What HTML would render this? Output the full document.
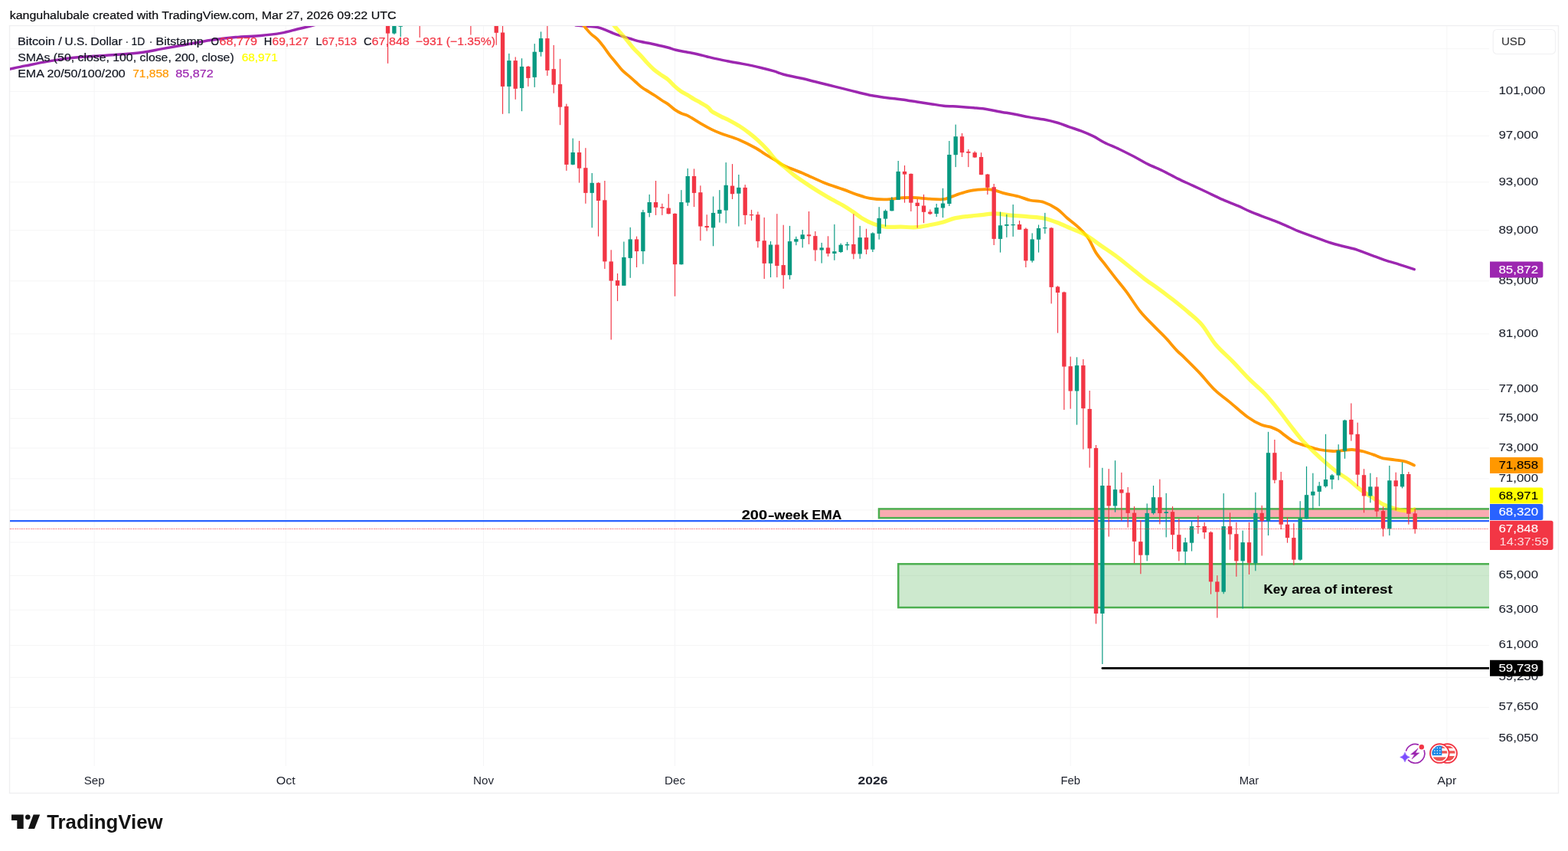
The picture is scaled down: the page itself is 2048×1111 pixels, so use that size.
<!DOCTYPE html>
<html lang="en"><head><meta charset="utf-8"><title>BTCUSD chart</title>
<style>
html,body{margin:0;padding:0;background:#fff;}
body{width:2048px;height:1111px;overflow:hidden;position:relative;font-family:"Liberation Sans", Arial, sans-serif;}
svg{position:absolute;left:0;top:0;display:block}
text{font-family:"Liberation Sans", Arial, sans-serif;}
</style></head><body>
<svg width="2048" height="1111" viewBox="0 0 2048 1111">
<defs><clipPath id="pane"><rect x="13" y="34" width="1932" height="966"/></clipPath></defs>
<rect width="2048" height="1111" fill="#fff"/>

<text x="12.7" y="24.9" font-size="15.2" fill="#0a0b0f" stroke="#0a0b0f" stroke-width="0.2" textLength="504.8" lengthAdjust="spacingAndGlyphs">kanguhalubale created with TradingView.com, Mar 27, 2026 09:22 UTC</text>
<rect x="12.5" y="33.5" width="2023" height="1002" fill="none" stroke="#efeff1" stroke-width="1.4"/>
<g stroke="#f5f5f6" stroke-width="1" fill="none">
<line x1="13" x2="1945" y1="63.7" y2="63.7"/>
<line x1="13" x2="1945" y1="119.4" y2="119.4"/>
<line x1="13" x2="1945" y1="177.4" y2="177.4"/>
<line x1="13" x2="1945" y1="237.8" y2="237.8"/>
<line x1="13" x2="1945" y1="300.8" y2="300.8"/>
<line x1="13" x2="1945" y1="366.8" y2="366.8"/>
<line x1="13" x2="1945" y1="435.9" y2="435.9"/>
<line x1="13" x2="1945" y1="508.5" y2="508.5"/>
<line x1="13" x2="1945" y1="546.3" y2="546.3"/>
<line x1="13" x2="1945" y1="585.0" y2="585.0"/>
<line x1="13" x2="1945" y1="624.9" y2="624.9"/>
<line x1="13" x2="1945" y1="665.9" y2="665.9"/>
<line x1="13" x2="1945" y1="708.0" y2="708.0"/>
<line x1="13" x2="1945" y1="751.5" y2="751.5"/>
<line x1="13" x2="1945" y1="796.3" y2="796.3"/>
<line x1="13" x2="1945" y1="842.6" y2="842.6"/>
<line x1="13" x2="1945" y1="884.3" y2="884.3"/>
<line x1="13" x2="1945" y1="923.6" y2="923.6"/>
<line x1="13" x2="1945" y1="964.0" y2="964.0"/>
<line x1="123.2" x2="123.2" y1="34" y2="1000"/>
<line x1="373.2" x2="373.2" y1="34" y2="1000"/>
<line x1="631.5" x2="631.5" y1="34" y2="1000"/>
<line x1="881.5" x2="881.5" y1="34" y2="1000"/>
<line x1="1139.9" x2="1139.9" y1="34" y2="1000"/>
<line x1="1398.2" x2="1398.2" y1="34" y2="1000"/>
<line x1="1631.5" x2="1631.5" y1="34" y2="1000"/>
<line x1="1889.8" x2="1889.8" y1="34" y2="1000"/>
</g>
<rect x="1148.0" y="664.4" width="799.7" height="11.8" fill="rgba(242,54,69,0.42)" stroke="#4caf50" stroke-width="2.5" clip-path="url(#pane)"/>
<rect x="1173.3" y="736.3" width="774.7" height="56.8" fill="rgba(76,175,80,0.28)" stroke="#4caf50" stroke-width="2.5" clip-path="url(#pane)"/>
<line x1="13" x2="1945" y1="680.05" y2="680.05" stroke="#2962ff" stroke-width="2.3"/>
<line x1="1439.9" x2="1945" y1="872.4" y2="872.4" stroke="#000" stroke-width="2.8" stroke-linecap="round" clip-path="url(#pane)"/>
<g clip-path="url(#pane)" fill="none" stroke-linejoin="round" stroke-linecap="round">
<path d="M12.5,90.2 C15.9,89.5 24.8,87.5 33.0,85.9 C41.2,84.3 51.6,82.1 61.5,80.4 C71.4,78.7 82.0,77.0 92.3,75.8 C102.5,74.6 112.8,74.0 123.0,73.2 C133.2,72.5 143.2,72.1 153.8,71.3 C164.4,70.5 177.3,69.5 186.8,68.3 C196.3,67.1 201.8,65.5 211.0,63.9 C220.2,62.3 231.1,60.4 241.7,58.5 C252.3,56.6 263.7,54.1 274.7,52.5 C285.7,50.9 296.6,49.6 307.6,48.6 C318.6,47.6 330.6,47.3 340.6,46.4 C350.6,45.5 359.5,44.5 367.5,43.1 C375.5,41.7 382.3,39.5 388.5,38.0 C394.7,36.5 399.9,35.5 404.5,34.3 C409.1,33.1 414.1,31.6 416.0,31.0" stroke="#9c27b0" stroke-width="3.5"/>
<path d="M752.0,33.0 C754.4,33.2 761.5,33.9 766.2,34.3 C770.9,34.7 776.1,34.8 780.2,35.6 C784.3,36.4 787.6,37.9 791.0,39.2 C794.4,40.5 797.5,42.0 800.8,43.3 C804.0,44.5 806.7,45.5 810.5,46.7 C814.3,47.9 819.1,49.2 823.4,50.5 C827.7,51.8 832.1,53.3 836.4,54.3 C840.7,55.3 845.1,55.8 849.4,56.7 C853.7,57.6 858.3,58.8 862.3,59.7 C866.2,60.6 869.7,61.3 873.1,62.2 C876.5,63.1 879.0,64.3 882.8,65.2 C886.6,66.1 891.3,66.9 895.8,67.8 C900.3,68.7 905.3,69.5 909.8,70.5 C914.3,71.5 918.8,72.7 922.8,73.7 C926.8,74.7 929.1,75.4 933.6,76.4 C938.1,77.4 943.7,78.5 949.8,79.7 C955.9,80.9 962.8,82.0 970.0,83.4 C977.2,84.8 986.1,86.6 992.9,88.2 C999.7,89.8 1005.9,91.4 1011.0,92.9 C1016.1,94.4 1017.6,95.6 1023.6,97.2 C1029.6,98.8 1040.2,100.7 1047.1,102.3 C1054.0,103.9 1059.2,105.3 1065.2,106.8 C1071.2,108.3 1077.5,109.9 1083.3,111.3 C1089.1,112.7 1094.0,113.9 1100.0,115.4 C1106.0,116.9 1113.0,118.7 1119.5,120.3 C1126.0,121.9 1132.6,123.6 1139.1,124.8 C1145.6,126.0 1152.1,126.8 1158.6,127.7 C1165.1,128.6 1171.6,129.1 1178.1,130.0 C1184.6,130.9 1191.2,132.0 1197.7,133.0 C1204.2,134.0 1211.4,135.0 1217.2,135.9 C1223.0,136.8 1227.0,137.6 1232.8,138.2 C1238.6,138.8 1245.8,138.8 1252.3,139.2 C1258.8,139.6 1265.7,140.2 1271.9,140.8 C1278.1,141.4 1284.0,141.9 1289.5,142.7 C1295.0,143.5 1299.2,144.6 1305.1,145.7 C1310.9,146.8 1318.1,147.8 1324.6,149.0 C1331.1,150.2 1337.6,151.7 1344.1,152.9 C1350.6,154.1 1357.5,154.8 1363.7,156.0 C1369.9,157.2 1375.8,158.7 1381.3,160.3 C1386.8,161.9 1391.7,164.0 1396.9,165.8 C1402.1,167.6 1407.3,169.1 1412.5,171.1 C1417.7,173.1 1423.2,175.5 1428.1,177.9 C1433.0,180.3 1436.3,182.9 1441.8,185.7 C1447.3,188.5 1454.8,191.4 1461.3,194.5 C1467.8,197.6 1474.5,201.0 1480.9,204.3 C1487.3,207.6 1493.1,211.2 1499.5,214.4 C1505.9,217.6 1512.6,220.0 1519.1,223.2 C1525.6,226.4 1532.1,230.2 1538.6,233.4 C1545.1,236.6 1551.6,239.3 1558.1,242.3 C1564.6,245.3 1571.2,248.4 1577.7,251.5 C1584.2,254.6 1590.7,257.8 1597.2,260.7 C1603.7,263.6 1610.9,266.2 1616.7,268.7 C1622.5,271.2 1626.8,273.5 1632.3,275.9 C1637.8,278.2 1644.4,280.7 1649.9,282.8 C1655.4,284.9 1659.6,286.2 1665.5,288.6 C1671.4,291.0 1680.2,294.9 1685.1,297.0 C1690.0,299.1 1689.9,299.4 1694.8,301.3 C1699.7,303.2 1707.2,306.0 1714.4,308.6 C1721.6,311.2 1731.3,314.9 1737.8,317.0 C1744.3,319.1 1747.5,319.8 1753.4,321.3 C1759.3,322.9 1766.5,324.2 1773.0,326.3 C1779.5,328.4 1786.7,331.4 1792.5,333.6 C1798.3,335.8 1802.2,337.4 1808.1,339.4 C1814.0,341.3 1821.2,343.2 1827.7,345.3 C1834.2,347.4 1844.0,350.6 1847.2,351.7" stroke="#9c27b0" stroke-width="3.5"/>
<path d="M756.0,27.0 C757.2,28.2 760.4,31.5 763.0,34.3 C765.6,37.1 768.7,41.2 771.6,44.0 C774.5,46.8 777.5,48.4 780.2,51.1 C782.9,53.8 785.1,56.7 787.8,60.2 C790.5,63.7 793.7,68.6 796.4,72.1 C799.1,75.6 801.3,78.0 804.0,81.3 C806.7,84.5 809.7,88.6 812.6,91.6 C815.5,94.6 818.4,96.6 821.3,99.1 C824.2,101.6 827.0,104.2 829.9,106.7 C832.8,109.2 835.7,112.1 838.6,114.2 C841.5,116.3 844.3,117.8 847.2,119.6 C850.1,121.4 852.9,123.1 855.8,125.0 C858.7,126.9 861.6,129.1 864.5,131.0 C867.4,132.9 870.2,134.3 873.1,136.4 C876.0,138.5 878.8,141.4 881.7,143.4 C884.6,145.4 887.5,147.0 890.4,148.3 C893.3,149.6 895.2,149.4 899.0,151.4 C902.8,153.4 908.3,157.2 913.4,160.1 C918.5,163.0 924.9,166.7 929.7,169.1 C934.5,171.5 936.3,172.2 942.3,174.5 C948.3,176.8 958.3,179.5 965.8,182.7 C973.3,185.9 982.1,190.5 987.5,193.5 C992.9,196.5 994.2,198.1 998.4,200.7 C1002.6,203.3 1008.1,206.5 1012.6,209.2 C1017.1,211.9 1018.9,213.9 1025.2,216.8 C1031.5,219.8 1042.0,223.3 1050.4,226.9 C1058.8,230.5 1067.2,234.8 1075.6,238.2 C1084.0,241.6 1093.2,244.4 1100.8,247.1 C1108.4,249.8 1115.1,252.6 1121.0,254.6 C1126.9,256.6 1130.2,257.9 1136.1,258.9 C1142.0,259.9 1149.6,260.5 1156.3,260.4 C1163.0,260.3 1170.6,258.8 1176.5,258.4 C1182.4,258.0 1185.3,257.7 1191.6,257.9 C1197.9,258.1 1207.6,259.3 1214.3,259.7 C1221.0,260.1 1227.3,260.6 1231.9,260.2 C1236.5,259.8 1238.6,258.2 1242.0,257.1 C1245.4,256.0 1248.3,254.7 1252.1,253.4 C1255.9,252.2 1260.5,250.6 1264.7,249.6 C1268.9,248.6 1273.1,248.0 1277.3,247.6 C1281.5,247.2 1286.1,246.9 1289.9,247.1 C1293.7,247.3 1296.2,247.7 1300.0,248.6 C1303.8,249.5 1307.7,251.4 1312.8,252.7 C1317.9,254.0 1325.0,255.0 1330.4,256.5 C1335.9,258.0 1340.0,260.2 1345.5,261.5 C1351.0,262.8 1357.3,262.1 1363.2,264.0 C1369.1,265.9 1375.8,269.5 1380.8,272.9 C1385.8,276.3 1388.8,280.2 1393.4,284.2 C1398.0,288.2 1404.0,292.4 1408.6,296.8 C1413.2,301.2 1417.4,305.2 1421.2,310.7 C1425.0,316.2 1427.5,323.7 1431.3,329.6 C1435.1,335.5 1439.7,340.6 1443.9,346.0 C1448.1,351.4 1451.9,356.4 1456.5,362.3 C1461.1,368.2 1466.1,373.9 1471.6,381.3 C1477.0,388.7 1483.3,399.1 1489.2,406.5 C1495.1,413.9 1501.4,419.7 1506.9,425.4 C1512.4,431.1 1517.0,435.1 1522.0,440.5 C1527.0,445.9 1533.0,453.3 1537.1,457.6 C1541.2,461.9 1541.6,461.6 1546.5,466.4 C1551.4,471.2 1559.9,479.5 1566.6,486.6 C1573.3,493.7 1580.1,502.7 1586.8,509.2 C1593.5,515.7 1599.9,519.7 1607.0,525.6 C1614.1,531.5 1622.9,539.7 1629.6,544.5 C1636.3,549.3 1642.2,552.4 1647.3,554.6 C1652.3,556.8 1656.1,556.3 1659.9,557.6 C1663.7,558.9 1667.0,560.5 1670.0,562.2 C1673.0,564.0 1674.4,565.7 1677.8,568.1 C1681.2,570.5 1685.8,574.6 1690.4,576.9 C1695.0,579.2 1700.0,580.2 1705.5,581.9 C1711.0,583.6 1717.3,585.8 1723.2,587.0 C1729.1,588.2 1735.8,588.8 1740.8,589.0 C1745.8,589.2 1749.2,588.5 1753.4,588.2 C1757.6,587.9 1761.4,586.8 1766.0,587.0 C1770.6,587.2 1776.2,588.2 1781.2,589.5 C1786.2,590.8 1792.1,593.0 1796.3,594.5 C1800.5,596.0 1802.2,597.3 1806.4,598.3 C1810.6,599.3 1816.5,599.5 1821.5,600.3 C1826.5,601.1 1832.3,601.7 1836.6,602.9 C1840.8,604.1 1845.3,606.6 1847.0,607.4" stroke="#ff9800" stroke-width="3.8"/>
<path d="M797.0,27.0 C798.0,28.2 800.6,31.6 802.9,34.3 C805.1,37.0 807.8,39.9 810.5,43.0 C813.2,46.1 816.2,49.3 819.1,52.7 C822.0,56.1 824.9,60.3 827.8,63.5 C830.7,66.7 833.5,69.0 836.4,72.1 C839.3,75.1 842.1,78.7 845.0,81.8 C847.9,84.9 850.8,88.0 853.7,90.5 C856.6,93.0 859.2,94.8 862.3,97.0 C865.3,99.2 868.9,100.9 872.0,103.4 C875.1,105.9 877.8,109.5 880.7,112.1 C883.6,114.7 886.4,117.1 889.3,119.1 C892.2,121.1 895.1,122.3 898.0,124.0 C900.9,125.7 903.7,127.7 906.6,129.4 C909.5,131.1 912.1,132.4 915.2,134.2 C918.3,136.0 922.5,138.3 925.0,140.2 C927.5,142.1 927.1,143.7 930.0,145.7 C932.9,147.7 938.6,150.5 942.2,152.3 C945.8,154.1 947.5,154.4 951.4,156.5 C955.3,158.6 961.3,161.8 965.8,164.6 C970.3,167.4 974.6,170.6 978.5,173.6 C982.4,176.6 985.4,179.1 989.3,182.7 C993.2,186.3 998.1,191.1 1002.0,195.3 C1005.9,199.5 1008.7,204.1 1012.6,208.0 C1016.5,211.9 1021.0,215.1 1025.2,218.6 C1029.4,222.1 1032.3,225.1 1037.8,229.2 C1043.3,233.3 1050.8,238.3 1058.0,243.0 C1065.2,247.7 1073.6,252.9 1080.7,257.1 C1087.8,261.3 1095.3,264.9 1100.8,268.0 C1106.2,271.1 1109.2,273.2 1113.4,276.0 C1117.6,278.8 1121.4,282.2 1126.0,284.9 C1130.6,287.6 1136.2,290.5 1141.2,292.4 C1146.2,294.3 1150.4,295.6 1156.3,296.2 C1162.2,296.8 1169.8,296.1 1176.5,296.2 C1183.2,296.3 1190.3,297.1 1196.6,296.7 C1202.9,296.3 1208.4,294.8 1214.3,293.7 C1220.2,292.6 1226.5,291.4 1231.9,289.9 C1237.4,288.4 1241.5,286.2 1247.0,284.9 C1252.5,283.6 1258.8,283.0 1264.7,282.3 C1270.6,281.6 1276.4,281.2 1282.3,280.6 C1288.2,280.0 1294.3,278.8 1300.2,278.9 C1306.1,278.9 1310.7,280.2 1317.8,280.9 C1324.9,281.6 1335.4,282.2 1343.0,282.9 C1350.6,283.6 1356.9,283.7 1363.2,285.0 C1369.5,286.3 1374.9,288.3 1380.8,290.5 C1386.7,292.7 1392.2,295.4 1398.5,298.1 C1404.8,300.8 1412.3,303.3 1418.6,306.9 C1424.9,310.5 1430.0,315.1 1436.3,319.5 C1442.6,323.9 1450.2,328.8 1456.5,333.4 C1462.8,338.0 1467.8,342.2 1474.1,347.2 C1480.4,352.2 1488.0,358.8 1494.3,363.6 C1500.6,368.4 1505.6,371.6 1511.9,376.2 C1518.2,380.8 1525.4,386.1 1532.1,391.3 C1538.8,396.6 1545.9,402.2 1552.2,407.7 C1558.5,413.2 1563.9,417.1 1569.9,424.1 C1575.9,431.2 1581.4,442.1 1588.0,450.0 C1594.6,457.9 1602.1,463.8 1609.5,471.4 C1616.9,479.0 1625.1,488.2 1632.2,495.4 C1639.3,502.5 1646.0,507.6 1652.3,514.3 C1658.6,521.0 1664.7,528.6 1670.2,535.5 C1675.7,542.4 1680.4,549.0 1685.4,555.5 C1690.5,562.0 1695.5,568.7 1700.5,574.4 C1705.5,580.1 1710.6,584.7 1715.6,589.5 C1720.6,594.3 1725.7,599.0 1730.7,603.4 C1735.8,607.8 1740.9,612.2 1745.9,616.0 C1751.0,619.8 1756.0,622.2 1761.0,626.0 C1766.0,629.8 1771.1,634.8 1776.1,638.6 C1781.1,642.4 1786.2,645.4 1791.2,648.7 C1796.2,652.0 1801.4,655.8 1806.4,658.3 C1811.5,660.8 1816.5,662.5 1821.5,663.9 C1826.5,665.3 1833.0,666.5 1836.6,666.9 C1840.2,667.3 1840.9,666.6 1843.0,666.2 C1845.1,665.8 1848.2,664.9 1849.2,664.6" stroke="#ffff00" stroke-opacity="0.68" stroke-width="5.2" stroke-linecap="butt"/>
</g>
<g clip-path="url(#pane)">
<rect x="505.97" y="30.0" width="1.17" height="52.8" fill="#f23645"/>
<rect x="503.88" y="30.0" width="5.35" height="13.6" fill="#f23645"/>
<rect x="514.30" y="30.0" width="1.17" height="15.0" fill="#089981"/>
<rect x="512.21" y="30.0" width="5.35" height="13.6" fill="#089981"/>
<rect x="522.64" y="30.0" width="1.17" height="18.0" fill="#089981"/>
<rect x="520.55" y="30.0" width="5.35" height="4.8" fill="#089981"/>
<rect x="547.63" y="30.0" width="1.17" height="19.0" fill="#f23645"/>
<rect x="614.30" y="30.0" width="1.17" height="15.6" fill="#f23645"/>
<rect x="647.63" y="30.0" width="1.17" height="28.8" fill="#f23645"/>
<rect x="645.54" y="30.0" width="5.35" height="12.8" fill="#f23645"/>
<rect x="655.96" y="30.0" width="1.17" height="118.8" fill="#f23645"/>
<rect x="653.87" y="42.5" width="5.35" height="70.4" fill="#f23645"/>
<rect x="664.30" y="69.9" width="1.17" height="78.2" fill="#089981"/>
<rect x="662.21" y="79.1" width="5.35" height="33.8" fill="#089981"/>
<rect x="672.63" y="74.4" width="1.17" height="55.4" fill="#f23645"/>
<rect x="670.54" y="79.1" width="5.35" height="36.7" fill="#f23645"/>
<rect x="680.96" y="76.2" width="1.17" height="69.0" fill="#089981"/>
<rect x="678.87" y="86.9" width="5.35" height="28.2" fill="#089981"/>
<rect x="689.30" y="86.0" width="1.17" height="26.9" fill="#f23645"/>
<rect x="687.21" y="86.9" width="5.35" height="15.0" fill="#f23645"/>
<rect x="697.63" y="57.1" width="1.17" height="56.8" fill="#089981"/>
<rect x="695.54" y="67.7" width="5.35" height="33.2" fill="#089981"/>
<rect x="705.96" y="41.4" width="1.17" height="32.3" fill="#089981"/>
<rect x="703.87" y="50.1" width="5.35" height="17.7" fill="#089981"/>
<rect x="714.29" y="30.0" width="1.17" height="68.9" fill="#f23645"/>
<rect x="712.21" y="50.1" width="5.35" height="41.8" fill="#f23645"/>
<rect x="722.63" y="58.9" width="1.17" height="62.8" fill="#f23645"/>
<rect x="720.54" y="90.1" width="5.35" height="20.6" fill="#f23645"/>
<rect x="730.96" y="76.9" width="1.17" height="86.3" fill="#f23645"/>
<rect x="728.87" y="109.9" width="5.35" height="29.8" fill="#f23645"/>
<rect x="739.29" y="135.6" width="1.17" height="87.3" fill="#f23645"/>
<rect x="737.20" y="138.8" width="5.35" height="76.1" fill="#f23645"/>
<rect x="747.63" y="180.6" width="1.17" height="34.9" fill="#089981"/>
<rect x="745.54" y="199.0" width="5.35" height="15.9" fill="#089981"/>
<rect x="755.96" y="183.9" width="1.17" height="54.7" fill="#f23645"/>
<rect x="753.87" y="199.0" width="5.35" height="20.7" fill="#f23645"/>
<rect x="764.29" y="193.2" width="1.17" height="72.6" fill="#f23645"/>
<rect x="762.20" y="219.2" width="5.35" height="32.7" fill="#f23645"/>
<rect x="772.63" y="226.0" width="1.17" height="71.3" fill="#089981"/>
<rect x="770.54" y="238.8" width="5.35" height="13.1" fill="#089981"/>
<rect x="780.96" y="238.0" width="1.17" height="70.6" fill="#f23645"/>
<rect x="778.87" y="238.8" width="5.35" height="23.2" fill="#f23645"/>
<rect x="789.29" y="236.0" width="1.17" height="115.0" fill="#f23645"/>
<rect x="787.20" y="261.3" width="5.35" height="80.1" fill="#f23645"/>
<rect x="797.62" y="326.3" width="1.17" height="117.2" fill="#f23645"/>
<rect x="795.53" y="341.4" width="5.35" height="25.2" fill="#f23645"/>
<rect x="805.96" y="357.0" width="1.17" height="36.1" fill="#f23645"/>
<rect x="803.87" y="366.1" width="5.35" height="6.8" fill="#f23645"/>
<rect x="814.29" y="315.5" width="1.17" height="57.5" fill="#089981"/>
<rect x="812.20" y="335.9" width="5.35" height="37.0" fill="#089981"/>
<rect x="822.62" y="296.8" width="1.17" height="66.0" fill="#089981"/>
<rect x="820.53" y="312.4" width="5.35" height="24.5" fill="#089981"/>
<rect x="830.96" y="308.6" width="1.17" height="40.4" fill="#f23645"/>
<rect x="828.87" y="312.4" width="5.35" height="15.7" fill="#f23645"/>
<rect x="839.29" y="273.9" width="1.17" height="70.8" fill="#089981"/>
<rect x="837.20" y="277.1" width="5.35" height="51.0" fill="#089981"/>
<rect x="847.62" y="253.9" width="1.17" height="29.5" fill="#089981"/>
<rect x="845.53" y="264.0" width="5.35" height="13.9" fill="#089981"/>
<rect x="855.96" y="236.0" width="1.17" height="44.9" fill="#f23645"/>
<rect x="853.87" y="264.0" width="5.35" height="6.8" fill="#f23645"/>
<rect x="864.29" y="265.8" width="1.17" height="15.1" fill="#f23645"/>
<rect x="862.20" y="270.3" width="5.35" height="1.5" fill="#f23645"/>
<rect x="872.62" y="253.2" width="1.17" height="26.3" fill="#f23645"/>
<rect x="870.53" y="271.6" width="5.35" height="7.6" fill="#f23645"/>
<rect x="880.95" y="278.4" width="1.17" height="108.4" fill="#f23645"/>
<rect x="878.87" y="278.9" width="5.35" height="66.3" fill="#f23645"/>
<rect x="889.29" y="248.1" width="1.17" height="97.4" fill="#089981"/>
<rect x="887.20" y="264.0" width="5.35" height="81.2" fill="#089981"/>
<rect x="897.62" y="219.9" width="1.17" height="48.9" fill="#089981"/>
<rect x="895.53" y="230.0" width="5.35" height="34.5" fill="#089981"/>
<rect x="905.95" y="220.4" width="1.17" height="49.7" fill="#f23645"/>
<rect x="903.86" y="230.0" width="5.35" height="21.9" fill="#f23645"/>
<rect x="914.29" y="242.3" width="1.17" height="71.9" fill="#f23645"/>
<rect x="912.20" y="251.2" width="5.35" height="44.3" fill="#f23645"/>
<rect x="922.62" y="280.2" width="1.17" height="21.4" fill="#f23645"/>
<rect x="920.53" y="295.0" width="5.35" height="2.0" fill="#f23645"/>
<rect x="930.95" y="256.5" width="1.17" height="64.8" fill="#089981"/>
<rect x="928.86" y="277.9" width="5.35" height="19.4" fill="#089981"/>
<rect x="939.29" y="248.1" width="1.17" height="42.4" fill="#089981"/>
<rect x="937.20" y="273.9" width="5.35" height="5.0" fill="#089981"/>
<rect x="947.62" y="212.1" width="1.17" height="79.4" fill="#089981"/>
<rect x="945.53" y="241.8" width="5.35" height="32.8" fill="#089981"/>
<rect x="955.95" y="214.1" width="1.17" height="45.9" fill="#f23645"/>
<rect x="953.86" y="242.6" width="5.35" height="10.6" fill="#f23645"/>
<rect x="964.28" y="228.0" width="1.17" height="67.5" fill="#089981"/>
<rect x="962.19" y="244.9" width="5.35" height="7.8" fill="#089981"/>
<rect x="972.62" y="241.1" width="1.17" height="51.9" fill="#f23645"/>
<rect x="970.53" y="244.9" width="5.35" height="36.0" fill="#f23645"/>
<rect x="980.95" y="273.9" width="1.17" height="14.1" fill="#f23645"/>
<rect x="978.86" y="280.0" width="5.35" height="1.2" fill="#f23645"/>
<rect x="989.28" y="276.4" width="1.17" height="46.9" fill="#f23645"/>
<rect x="987.19" y="280.2" width="5.35" height="34.7" fill="#f23645"/>
<rect x="997.62" y="283.9" width="1.17" height="80.2" fill="#f23645"/>
<rect x="995.53" y="314.2" width="5.35" height="29.7" fill="#f23645"/>
<rect x="1005.95" y="315.0" width="1.17" height="47.1" fill="#089981"/>
<rect x="1003.86" y="319.5" width="5.35" height="24.4" fill="#089981"/>
<rect x="1014.28" y="279.2" width="1.17" height="82.9" fill="#f23645"/>
<rect x="1012.19" y="319.5" width="5.35" height="27.5" fill="#f23645"/>
<rect x="1022.62" y="293.7" width="1.17" height="83.2" fill="#f23645"/>
<rect x="1020.53" y="346.1" width="5.35" height="13.1" fill="#f23645"/>
<rect x="1030.95" y="294.9" width="1.17" height="69.9" fill="#089981"/>
<rect x="1028.86" y="315.1" width="5.35" height="44.1" fill="#089981"/>
<rect x="1039.28" y="308.8" width="1.17" height="11.4" fill="#089981"/>
<rect x="1037.19" y="312.1" width="5.35" height="3.5" fill="#089981"/>
<rect x="1047.62" y="300.0" width="1.17" height="23.4" fill="#089981"/>
<rect x="1045.53" y="306.3" width="5.35" height="5.8" fill="#089981"/>
<rect x="1055.95" y="276.0" width="1.17" height="42.9" fill="#f23645"/>
<rect x="1053.86" y="306.3" width="5.35" height="2.0" fill="#f23645"/>
<rect x="1064.28" y="302.0" width="1.17" height="38.8" fill="#f23645"/>
<rect x="1062.19" y="308.1" width="5.35" height="18.4" fill="#f23645"/>
<rect x="1072.61" y="316.9" width="1.17" height="26.7" fill="#089981"/>
<rect x="1070.52" y="323.4" width="5.35" height="3.1" fill="#089981"/>
<rect x="1080.95" y="308.3" width="1.17" height="26.5" fill="#f23645"/>
<rect x="1078.86" y="323.4" width="5.35" height="7.6" fill="#f23645"/>
<rect x="1089.28" y="292.9" width="1.17" height="46.9" fill="#089981"/>
<rect x="1087.19" y="328.2" width="5.35" height="2.8" fill="#089981"/>
<rect x="1097.61" y="317.6" width="1.17" height="12.6" fill="#089981"/>
<rect x="1095.52" y="319.7" width="5.35" height="9.3" fill="#089981"/>
<rect x="1105.95" y="315.9" width="1.17" height="10.6" fill="#089981"/>
<rect x="1103.86" y="318.9" width="5.35" height="1.5" fill="#089981"/>
<rect x="1114.28" y="279.3" width="1.17" height="59.0" fill="#f23645"/>
<rect x="1112.19" y="318.9" width="5.35" height="12.6" fill="#f23645"/>
<rect x="1122.61" y="294.9" width="1.17" height="42.9" fill="#089981"/>
<rect x="1120.52" y="310.1" width="5.35" height="21.4" fill="#089981"/>
<rect x="1130.94" y="298.7" width="1.17" height="33.3" fill="#f23645"/>
<rect x="1128.86" y="310.1" width="5.35" height="15.6" fill="#f23645"/>
<rect x="1139.28" y="303.3" width="1.17" height="25.7" fill="#089981"/>
<rect x="1137.19" y="304.5" width="5.35" height="21.2" fill="#089981"/>
<rect x="1147.61" y="270.2" width="1.17" height="42.4" fill="#089981"/>
<rect x="1145.52" y="284.9" width="5.35" height="20.1" fill="#089981"/>
<rect x="1155.94" y="273.5" width="1.17" height="22.2" fill="#089981"/>
<rect x="1153.85" y="275.3" width="5.35" height="10.3" fill="#089981"/>
<rect x="1164.28" y="257.1" width="1.17" height="18.4" fill="#089981"/>
<rect x="1162.19" y="260.9" width="5.35" height="14.4" fill="#089981"/>
<rect x="1172.61" y="210.0" width="1.17" height="51.0" fill="#089981"/>
<rect x="1170.52" y="223.9" width="5.35" height="37.0" fill="#089981"/>
<rect x="1180.94" y="216.0" width="1.17" height="48.7" fill="#f23645"/>
<rect x="1178.85" y="223.9" width="5.35" height="3.7" fill="#f23645"/>
<rect x="1189.28" y="226.5" width="1.17" height="49.5" fill="#f23645"/>
<rect x="1187.19" y="226.9" width="5.35" height="37.8" fill="#f23645"/>
<rect x="1197.61" y="259.7" width="1.17" height="37.8" fill="#f23645"/>
<rect x="1195.52" y="264.7" width="5.35" height="4.3" fill="#f23645"/>
<rect x="1205.94" y="253.9" width="1.17" height="37.3" fill="#f23645"/>
<rect x="1203.85" y="268.5" width="5.35" height="8.3" fill="#f23645"/>
<rect x="1214.28" y="273.5" width="1.17" height="6.8" fill="#f23645"/>
<rect x="1212.19" y="276.5" width="5.35" height="2.8" fill="#f23645"/>
<rect x="1222.61" y="266.0" width="1.17" height="17.1" fill="#089981"/>
<rect x="1220.52" y="271.0" width="5.35" height="8.1" fill="#089981"/>
<rect x="1230.94" y="245.8" width="1.17" height="38.3" fill="#089981"/>
<rect x="1228.85" y="265.5" width="5.35" height="6.0" fill="#089981"/>
<rect x="1239.27" y="184.0" width="1.17" height="85.0" fill="#089981"/>
<rect x="1237.18" y="202.0" width="5.35" height="64.0" fill="#089981"/>
<rect x="1247.61" y="162.6" width="1.17" height="55.5" fill="#089981"/>
<rect x="1245.52" y="178.2" width="5.35" height="24.0" fill="#089981"/>
<rect x="1255.94" y="173.9" width="1.17" height="31.1" fill="#f23645"/>
<rect x="1253.85" y="178.2" width="5.35" height="21.0" fill="#f23645"/>
<rect x="1264.27" y="194.9" width="1.17" height="23.2" fill="#f23645"/>
<rect x="1262.18" y="197.9" width="5.35" height="1.8" fill="#f23645"/>
<rect x="1272.61" y="197.4" width="1.17" height="8.6" fill="#f23645"/>
<rect x="1270.52" y="199.2" width="5.35" height="6.3" fill="#f23645"/>
<rect x="1280.94" y="199.2" width="1.17" height="29.1" fill="#f23645"/>
<rect x="1278.85" y="205.0" width="5.35" height="23.1" fill="#f23645"/>
<rect x="1289.27" y="227.0" width="1.17" height="27.0" fill="#f23645"/>
<rect x="1287.18" y="227.6" width="5.35" height="17.2" fill="#f23645"/>
<rect x="1297.61" y="240.0" width="1.17" height="80.0" fill="#f23645"/>
<rect x="1295.52" y="244.2" width="5.35" height="67.7" fill="#f23645"/>
<rect x="1305.94" y="276.6" width="1.17" height="53.0" fill="#089981"/>
<rect x="1303.85" y="294.3" width="5.35" height="17.6" fill="#089981"/>
<rect x="1314.27" y="279.9" width="1.17" height="30.0" fill="#089981"/>
<rect x="1312.18" y="293.0" width="5.35" height="1.8" fill="#089981"/>
<rect x="1322.60" y="267.0" width="1.17" height="41.9" fill="#089981"/>
<rect x="1320.51" y="293.0" width="5.35" height="1.2" fill="#089981"/>
<rect x="1330.94" y="288.0" width="1.17" height="12.0" fill="#f23645"/>
<rect x="1328.85" y="293.0" width="5.35" height="6.8" fill="#f23645"/>
<rect x="1339.27" y="297.3" width="1.17" height="51.7" fill="#f23645"/>
<rect x="1337.18" y="298.8" width="5.35" height="41.6" fill="#f23645"/>
<rect x="1347.60" y="304.4" width="1.17" height="38.3" fill="#089981"/>
<rect x="1345.51" y="312.4" width="5.35" height="28.0" fill="#089981"/>
<rect x="1355.94" y="293.5" width="1.17" height="36.1" fill="#089981"/>
<rect x="1353.85" y="298.0" width="5.35" height="14.7" fill="#089981"/>
<rect x="1364.27" y="277.9" width="1.17" height="27.2" fill="#089981"/>
<rect x="1362.18" y="297.0" width="5.35" height="1.2" fill="#089981"/>
<rect x="1372.60" y="296.8" width="1.17" height="99.6" fill="#f23645"/>
<rect x="1370.51" y="297.6" width="5.35" height="77.3" fill="#f23645"/>
<rect x="1380.93" y="373.2" width="1.17" height="61.5" fill="#f23645"/>
<rect x="1378.85" y="374.4" width="5.35" height="7.6" fill="#f23645"/>
<rect x="1389.27" y="380.7" width="1.17" height="154.3" fill="#f23645"/>
<rect x="1387.18" y="381.5" width="5.35" height="97.1" fill="#f23645"/>
<rect x="1397.60" y="465.6" width="1.17" height="68.1" fill="#f23645"/>
<rect x="1395.51" y="478.2" width="5.35" height="32.3" fill="#f23645"/>
<rect x="1405.93" y="466.3" width="1.17" height="88.3" fill="#089981"/>
<rect x="1403.84" y="477.1" width="5.35" height="33.4" fill="#089981"/>
<rect x="1414.27" y="469.0" width="1.17" height="117.6" fill="#f23645"/>
<rect x="1412.18" y="477.1" width="5.35" height="56.1" fill="#f23645"/>
<rect x="1422.60" y="510.0" width="1.17" height="100.6" fill="#f23645"/>
<rect x="1420.51" y="533.9" width="5.35" height="51.5" fill="#f23645"/>
<rect x="1430.93" y="581.0" width="1.17" height="233.4" fill="#f23645"/>
<rect x="1428.84" y="584.9" width="5.35" height="216.1" fill="#f23645"/>
<rect x="1439.27" y="610.8" width="1.17" height="256.2" fill="#089981"/>
<rect x="1437.18" y="634.0" width="5.35" height="167.0" fill="#089981"/>
<rect x="1447.60" y="612.1" width="1.17" height="88.5" fill="#f23645"/>
<rect x="1445.51" y="634.0" width="5.35" height="26.5" fill="#f23645"/>
<rect x="1455.93" y="601.2" width="1.17" height="67.5" fill="#089981"/>
<rect x="1453.84" y="639.1" width="5.35" height="21.4" fill="#089981"/>
<rect x="1464.26" y="616.9" width="1.17" height="62.9" fill="#f23645"/>
<rect x="1462.17" y="639.1" width="5.35" height="4.5" fill="#f23645"/>
<rect x="1472.60" y="636.0" width="1.17" height="52.7" fill="#f23645"/>
<rect x="1470.51" y="643.3" width="5.35" height="26.6" fill="#f23645"/>
<rect x="1480.93" y="661.1" width="1.17" height="74.1" fill="#f23645"/>
<rect x="1478.84" y="669.6" width="5.35" height="37.3" fill="#f23645"/>
<rect x="1489.26" y="679.1" width="1.17" height="70.2" fill="#f23645"/>
<rect x="1487.17" y="707.1" width="5.35" height="17.6" fill="#f23645"/>
<rect x="1497.60" y="657.4" width="1.17" height="75.0" fill="#089981"/>
<rect x="1495.51" y="669.9" width="5.35" height="54.8" fill="#089981"/>
<rect x="1505.93" y="634.0" width="1.17" height="37.7" fill="#089981"/>
<rect x="1503.84" y="649.2" width="5.35" height="20.8" fill="#089981"/>
<rect x="1514.26" y="625.7" width="1.17" height="58.7" fill="#f23645"/>
<rect x="1512.17" y="649.2" width="5.35" height="20.8" fill="#f23645"/>
<rect x="1522.60" y="643.9" width="1.17" height="57.5" fill="#089981"/>
<rect x="1520.51" y="668.2" width="5.35" height="1.8" fill="#089981"/>
<rect x="1530.93" y="661.1" width="1.17" height="55.9" fill="#f23645"/>
<rect x="1528.84" y="668.2" width="5.35" height="30.0" fill="#f23645"/>
<rect x="1539.26" y="677.1" width="1.17" height="55.3" fill="#f23645"/>
<rect x="1537.17" y="698.2" width="5.35" height="21.9" fill="#f23645"/>
<rect x="1547.59" y="702.0" width="1.17" height="35.1" fill="#089981"/>
<rect x="1545.50" y="708.1" width="5.35" height="12.0" fill="#089981"/>
<rect x="1555.93" y="680.5" width="1.17" height="39.1" fill="#089981"/>
<rect x="1553.84" y="687.1" width="5.35" height="21.6" fill="#089981"/>
<rect x="1564.26" y="673.1" width="1.17" height="23.7" fill="#f23645"/>
<rect x="1562.17" y="686.9" width="5.35" height="1.2" fill="#f23645"/>
<rect x="1572.59" y="682.0" width="1.17" height="21.5" fill="#f23645"/>
<rect x="1570.50" y="687.1" width="5.35" height="7.9" fill="#f23645"/>
<rect x="1580.93" y="693.5" width="1.17" height="82.2" fill="#f23645"/>
<rect x="1578.84" y="695.0" width="5.35" height="64.4" fill="#f23645"/>
<rect x="1589.26" y="751.2" width="1.17" height="55.4" fill="#f23645"/>
<rect x="1587.17" y="759.4" width="5.35" height="13.3" fill="#f23645"/>
<rect x="1597.59" y="644.1" width="1.17" height="131.2" fill="#089981"/>
<rect x="1595.50" y="687.1" width="5.35" height="85.6" fill="#089981"/>
<rect x="1605.93" y="669.3" width="1.17" height="48.4" fill="#f23645"/>
<rect x="1603.84" y="687.1" width="5.35" height="10.4" fill="#f23645"/>
<rect x="1614.26" y="682.0" width="1.17" height="70.8" fill="#f23645"/>
<rect x="1612.17" y="697.2" width="5.35" height="35.2" fill="#f23645"/>
<rect x="1622.59" y="692.6" width="1.17" height="101.9" fill="#089981"/>
<rect x="1620.50" y="708.1" width="5.35" height="24.3" fill="#089981"/>
<rect x="1630.92" y="682.0" width="1.17" height="68.0" fill="#f23645"/>
<rect x="1628.84" y="708.1" width="5.35" height="26.7" fill="#f23645"/>
<rect x="1639.26" y="642.8" width="1.17" height="102.5" fill="#089981"/>
<rect x="1637.17" y="669.8" width="5.35" height="65.4" fill="#089981"/>
<rect x="1647.59" y="659.9" width="1.17" height="65.6" fill="#f23645"/>
<rect x="1645.50" y="669.8" width="5.35" height="10.4" fill="#f23645"/>
<rect x="1655.92" y="563.8" width="1.17" height="135.3" fill="#089981"/>
<rect x="1653.83" y="591.2" width="5.35" height="89.0" fill="#089981"/>
<rect x="1664.26" y="574.0" width="1.17" height="57.0" fill="#f23645"/>
<rect x="1662.17" y="591.2" width="5.35" height="35.5" fill="#f23645"/>
<rect x="1672.59" y="616.0" width="1.17" height="75.0" fill="#f23645"/>
<rect x="1670.50" y="626.8" width="5.35" height="57.9" fill="#f23645"/>
<rect x="1680.92" y="675.2" width="1.17" height="33.5" fill="#f23645"/>
<rect x="1678.83" y="684.7" width="5.35" height="17.4" fill="#f23645"/>
<rect x="1689.26" y="683.3" width="1.17" height="54.4" fill="#f23645"/>
<rect x="1687.17" y="702.1" width="5.35" height="28.6" fill="#f23645"/>
<rect x="1697.59" y="654.2" width="1.17" height="77.7" fill="#089981"/>
<rect x="1695.50" y="676.8" width="5.35" height="53.9" fill="#089981"/>
<rect x="1705.92" y="608.9" width="1.17" height="68.6" fill="#089981"/>
<rect x="1703.83" y="646.2" width="5.35" height="31.0" fill="#089981"/>
<rect x="1714.25" y="617.7" width="1.17" height="47.4" fill="#089981"/>
<rect x="1712.16" y="641.7" width="5.35" height="5.0" fill="#089981"/>
<rect x="1722.59" y="629.1" width="1.17" height="31.7" fill="#089981"/>
<rect x="1720.50" y="634.4" width="5.35" height="7.5" fill="#089981"/>
<rect x="1730.92" y="566.8" width="1.17" height="69.8" fill="#089981"/>
<rect x="1728.83" y="626.0" width="5.35" height="8.9" fill="#089981"/>
<rect x="1739.25" y="619.0" width="1.17" height="19.6" fill="#089981"/>
<rect x="1737.16" y="620.5" width="5.35" height="5.5" fill="#089981"/>
<rect x="1747.59" y="580.2" width="1.17" height="46.6" fill="#089981"/>
<rect x="1745.50" y="588.2" width="5.35" height="32.3" fill="#089981"/>
<rect x="1755.92" y="547.9" width="1.17" height="50.9" fill="#089981"/>
<rect x="1753.83" y="548.7" width="5.35" height="40.0" fill="#089981"/>
<rect x="1764.25" y="526.5" width="1.17" height="49.1" fill="#f23645"/>
<rect x="1762.16" y="547.9" width="5.35" height="19.4" fill="#f23645"/>
<rect x="1772.59" y="551.7" width="1.17" height="83.2" fill="#f23645"/>
<rect x="1770.50" y="566.8" width="5.35" height="52.9" fill="#f23645"/>
<rect x="1780.92" y="612.2" width="1.17" height="57.2" fill="#f23645"/>
<rect x="1778.83" y="620.2" width="5.35" height="27.3" fill="#f23645"/>
<rect x="1789.25" y="617.7" width="1.17" height="38.6" fill="#089981"/>
<rect x="1787.16" y="635.4" width="5.35" height="12.1" fill="#089981"/>
<rect x="1797.59" y="623.0" width="1.17" height="51.7" fill="#f23645"/>
<rect x="1795.50" y="635.4" width="5.35" height="32.2" fill="#f23645"/>
<rect x="1805.92" y="661.3" width="1.17" height="39.1" fill="#f23645"/>
<rect x="1803.83" y="667.1" width="5.35" height="22.7" fill="#f23645"/>
<rect x="1814.25" y="607.9" width="1.17" height="91.2" fill="#089981"/>
<rect x="1812.16" y="627.3" width="5.35" height="63.0" fill="#089981"/>
<rect x="1822.58" y="616.7" width="1.17" height="49.7" fill="#f23645"/>
<rect x="1820.49" y="627.3" width="5.35" height="7.6" fill="#f23645"/>
<rect x="1830.92" y="603.4" width="1.17" height="34.0" fill="#089981"/>
<rect x="1828.83" y="619.0" width="5.35" height="16.4" fill="#089981"/>
<rect x="1839.25" y="616.0" width="1.17" height="68.7" fill="#f23645"/>
<rect x="1837.16" y="619.0" width="5.35" height="51.8" fill="#f23645"/>
<rect x="1847.58" y="663.9" width="1.17" height="32.8" fill="#f23645"/>
<rect x="1845.49" y="670.3" width="5.35" height="20.5" fill="#f23645"/>
</g>
<line x1="13" x2="1945" y1="690.5" y2="690.5" stroke="#f23645" stroke-width="1" stroke-dasharray="1 1.2 1 1.3 1 1.5"/>
<text y="678.2" font-size="16.6" font-weight="700"><tspan x="968.7" fill="#000" stroke="#000" stroke-width="0.15" textLength="33.4" lengthAdjust="spacingAndGlyphs">200</tspan><tspan x="1003.1" fill="#000" stroke="#000" stroke-width="0.15" textLength="8.6" lengthAdjust="spacingAndGlyphs">-</tspan><tspan x="1011.3" fill="#000" stroke="#000" stroke-width="0.15" textLength="44.6" lengthAdjust="spacingAndGlyphs">week</tspan> <tspan x="1060.6" fill="#000" stroke="#000" stroke-width="0.15" textLength="38.8" lengthAdjust="spacingAndGlyphs">EMA</tspan></text>
<text y="775" font-size="16.6" font-weight="700"><tspan x="1650.6" fill="#000" stroke="#000" stroke-width="0.15" textLength="31.2" lengthAdjust="spacingAndGlyphs">Key</tspan> <tspan x="1687.2" fill="#000" stroke="#000" stroke-width="0.15" textLength="37.4" lengthAdjust="spacingAndGlyphs">area</tspan> <tspan x="1729.8" fill="#000" stroke="#000" stroke-width="0.15" textLength="16.4" lengthAdjust="spacingAndGlyphs">of</tspan> <tspan x="1751.6" fill="#000" stroke="#000" stroke-width="0.15" textLength="67" lengthAdjust="spacingAndGlyphs">interest</tspan></text>
<text y="58.9" font-size="14.8" font-weight="400"><tspan x="23.0" fill="#131722" stroke="#131722" stroke-width="0.22" textLength="48.8" lengthAdjust="spacingAndGlyphs">Bitcoin</tspan> <tspan x="76.2" fill="#131722" stroke="#131722" stroke-width="0.22" textLength="4.6" lengthAdjust="spacingAndGlyphs">/</tspan> <tspan x="84.6" fill="#131722" stroke="#131722" stroke-width="0.22" textLength="29.8" lengthAdjust="spacingAndGlyphs">U.S.</tspan> <tspan x="118.2" fill="#131722" stroke="#131722" stroke-width="0.22" textLength="41.5" lengthAdjust="spacingAndGlyphs">Dollar</tspan> <tspan x="163.8" fill="#131722" stroke="#131722" stroke-width="0.22" textLength="4.2" lengthAdjust="spacingAndGlyphs">·</tspan> <tspan x="171.6" fill="#131722" stroke="#131722" stroke-width="0.22" textLength="17.8" lengthAdjust="spacingAndGlyphs">1D</tspan> <tspan x="195.1" fill="#131722" stroke="#131722" stroke-width="0.22" textLength="4.2" lengthAdjust="spacingAndGlyphs">·</tspan> <tspan x="203.6" fill="#131722" stroke="#131722" stroke-width="0.22" textLength="62" lengthAdjust="spacingAndGlyphs">Bitstamp</tspan> <tspan x="275.5" fill="#131722" stroke="#131722" stroke-width="0.22" textLength="10.5" lengthAdjust="spacingAndGlyphs">O</tspan><tspan x="286.6" fill="#f23645" stroke="#f23645" stroke-width="0.22" textLength="49.5" lengthAdjust="spacingAndGlyphs">68,779</tspan> <tspan x="344.8" fill="#131722" stroke="#131722" stroke-width="0.22" textLength="10.5" lengthAdjust="spacingAndGlyphs">H</tspan><tspan x="355.6" fill="#f23645" stroke="#f23645" stroke-width="0.22" textLength="47.5" lengthAdjust="spacingAndGlyphs">69,127</tspan> <tspan x="412.5" fill="#131722" stroke="#131722" stroke-width="0.22" textLength="8" lengthAdjust="spacingAndGlyphs">L</tspan><tspan x="420.6" fill="#f23645" stroke="#f23645" stroke-width="0.22" textLength="45.5" lengthAdjust="spacingAndGlyphs">67,513</tspan> <tspan x="475" fill="#131722" stroke="#131722" stroke-width="0.22" textLength="10.5" lengthAdjust="spacingAndGlyphs">C</tspan><tspan x="485.6" fill="#f23645" stroke="#f23645" stroke-width="0.22" textLength="49.2" lengthAdjust="spacingAndGlyphs">67,848</tspan> <tspan x="543" fill="#f23645" stroke="#f23645" stroke-width="0.22" textLength="104" lengthAdjust="spacingAndGlyphs">−931 (−1.35%)</tspan></text>
<text y="79.7" font-size="14.8" font-weight="400"><tspan x="23.2" fill="#131722" stroke="#131722" stroke-width="0.22" textLength="282.5" lengthAdjust="spacingAndGlyphs">SMAs (50, close, 100, close, 200, close)</tspan> <tspan x="315.7" fill="#ffff00" stroke="#ffff00" stroke-width="0.22" textLength="47" lengthAdjust="spacingAndGlyphs">68,971</tspan></text>
<text y="100.85" font-size="14.8" font-weight="400"><tspan x="23.2" fill="#131722" stroke="#131722" stroke-width="0.22" textLength="140.5" lengthAdjust="spacingAndGlyphs">EMA 20/50/100/200</tspan> <tspan x="173.2" fill="#ff9800" stroke="#ff9800" stroke-width="0.22" textLength="47.5" lengthAdjust="spacingAndGlyphs">71,858</tspan> <tspan x="229.3" fill="#9c27b0" stroke="#9c27b0" stroke-width="0.22" textLength="49.5" lengthAdjust="spacingAndGlyphs">85,872</tspan></text>
<rect x="1950.2" y="38.5" width="81.3" height="32" rx="5" fill="#fff" stroke="#f1f1f3" stroke-width="1.2"/>
<text x="1961.0" y="59.4" font-size="14.8" fill="#2e2e30" stroke="#2e2e30" stroke-width="0.1" font-weight="400" textLength="31.8" lengthAdjust="spacingAndGlyphs">USD</text>
<text x="1957.4" y="123.2" font-size="14.7" fill="#1e222d" stroke="#1e222d" stroke-width="0.1" font-weight="400" textLength="61" lengthAdjust="spacingAndGlyphs">101,000</text>
<text x="1957.4" y="181.2" font-size="14.7" fill="#1e222d" stroke="#1e222d" stroke-width="0.1" font-weight="400" textLength="51.8" lengthAdjust="spacingAndGlyphs">97,000</text>
<text x="1957.4" y="241.6" font-size="14.7" fill="#1e222d" stroke="#1e222d" stroke-width="0.1" font-weight="400" textLength="51.8" lengthAdjust="spacingAndGlyphs">93,000</text>
<text x="1957.4" y="304.7" font-size="14.7" fill="#1e222d" stroke="#1e222d" stroke-width="0.1" font-weight="400" textLength="51.8" lengthAdjust="spacingAndGlyphs">89,000</text>
<text x="1957.4" y="370.6" font-size="14.7" fill="#1e222d" stroke="#1e222d" stroke-width="0.1" font-weight="400" textLength="51.8" lengthAdjust="spacingAndGlyphs">85,000</text>
<text x="1957.4" y="439.7" font-size="14.7" fill="#1e222d" stroke="#1e222d" stroke-width="0.1" font-weight="400" textLength="51.8" lengthAdjust="spacingAndGlyphs">81,000</text>
<text x="1957.4" y="512.4" font-size="14.7" fill="#1e222d" stroke="#1e222d" stroke-width="0.1" font-weight="400" textLength="51.8" lengthAdjust="spacingAndGlyphs">77,000</text>
<text x="1957.4" y="550.1" font-size="14.7" fill="#1e222d" stroke="#1e222d" stroke-width="0.1" font-weight="400" textLength="51.8" lengthAdjust="spacingAndGlyphs">75,000</text>
<text x="1957.4" y="588.9" font-size="14.7" fill="#1e222d" stroke="#1e222d" stroke-width="0.1" font-weight="400" textLength="51.8" lengthAdjust="spacingAndGlyphs">73,000</text>
<text x="1957.4" y="628.7" font-size="14.7" fill="#1e222d" stroke="#1e222d" stroke-width="0.1" font-weight="400" textLength="51.8" lengthAdjust="spacingAndGlyphs">71,000</text>
<text x="1957.4" y="755.3" font-size="14.7" fill="#1e222d" stroke="#1e222d" stroke-width="0.1" font-weight="400" textLength="51.8" lengthAdjust="spacingAndGlyphs">65,000</text>
<text x="1957.4" y="800.2" font-size="14.7" fill="#1e222d" stroke="#1e222d" stroke-width="0.1" font-weight="400" textLength="51.8" lengthAdjust="spacingAndGlyphs">63,000</text>
<text x="1957.4" y="846.4" font-size="14.7" fill="#1e222d" stroke="#1e222d" stroke-width="0.1" font-weight="400" textLength="51.8" lengthAdjust="spacingAndGlyphs">61,000</text>
<text x="1957.4" y="888.2" font-size="14.7" fill="#1e222d" stroke="#1e222d" stroke-width="0.1" font-weight="400" textLength="51.8" lengthAdjust="spacingAndGlyphs">59,250</text>
<text x="1957.4" y="927.4" font-size="14.7" fill="#1e222d" stroke="#1e222d" stroke-width="0.1" font-weight="400" textLength="51.8" lengthAdjust="spacingAndGlyphs">57,650</text>
<text x="1957.4" y="967.8" font-size="14.7" fill="#1e222d" stroke="#1e222d" stroke-width="0.1" font-weight="400" textLength="51.8" lengthAdjust="spacingAndGlyphs">56,050</text>
<path d="M1946,341.5 H2012.9 Q2015.4,341.5 2015.4,344.0 V360.0 Q2015.4,362.5 2012.9,362.5 H1946 Z" fill="#9c27b0"/>
<text x="1957.4" y="356.6" font-size="14.7" fill="#fff" stroke="#fff" stroke-width="0.1" font-weight="400" textLength="51.8" lengthAdjust="spacingAndGlyphs">85,872</text>
<path d="M1946,597.1 H2012.9 Q2015.4,597.1 2015.4,599.6 V615.6 Q2015.4,618.1 2012.9,618.1 H1946 Z" fill="#ff9800"/>
<text x="1957.4" y="612.2" font-size="14.7" fill="#000" stroke="#000" stroke-width="0.1" font-weight="400" textLength="51.8" lengthAdjust="spacingAndGlyphs">71,858</text>
<path d="M1946,636.5 H2012.9 Q2015.4,636.5 2015.4,639.0 V655.0 Q2015.4,657.5 2012.9,657.5 H1946 Z" fill="#ffff00"/>
<text x="1957.4" y="651.6" font-size="14.7" fill="#000" stroke="#000" stroke-width="0.1" font-weight="400" textLength="51.8" lengthAdjust="spacingAndGlyphs">68,971</text>
<path d="M1946,657.9 H2012.9 Q2015.4,657.9 2015.4,660.4 V676.4 Q2015.4,678.9 2012.9,678.9 H1946 Z" fill="#2962ff"/>
<text x="1957.4" y="673.0" font-size="14.7" fill="#fff" stroke="#fff" stroke-width="0.1" font-weight="400" textLength="51.8" lengthAdjust="spacingAndGlyphs">68,320</text>
<path d="M1946,861.8 H2012.9 Q2015.4,861.8 2015.4,864.3 V880.3 Q2015.4,882.8 2012.9,882.8 H1946 Z" fill="#000"/>
<text x="1957.4" y="876.9" font-size="14.7" fill="#fff" stroke="#fff" stroke-width="0.1" font-weight="400" textLength="51.8" lengthAdjust="spacingAndGlyphs">59,739</text>
<path d="M1946,679.7 H2026 Q2028.6,679.7 2028.6,682.3 V715.3 Q2028.6,717.9 2026,717.9 H1946 Z" fill="#f23645"/>
<text x="1957.4" y="695" font-size="14.7" fill="#fff" stroke="#fff" stroke-width="0.1" font-weight="400" textLength="51.8" lengthAdjust="spacingAndGlyphs">67,848</text>
<text x="1958.6" y="712" font-size="14.7" fill="rgba(255,255,255,0.82)" stroke="rgba(255,255,255,0.82)" stroke-width="0" font-weight="400" textLength="64" lengthAdjust="spacingAndGlyphs">14:37:59</text>
<text x="123.2" y="1024" font-size="15.5" text-anchor="middle" fill="#1e222d" font-weight="400" textLength="27" lengthAdjust="spacingAndGlyphs">Sep</text>
<text x="373.2" y="1024" font-size="15.5" text-anchor="middle" fill="#1e222d" font-weight="400" textLength="25" lengthAdjust="spacingAndGlyphs">Oct</text>
<text x="631.5" y="1024" font-size="15.5" text-anchor="middle" fill="#1e222d" font-weight="400" textLength="27" lengthAdjust="spacingAndGlyphs">Nov</text>
<text x="881.5" y="1024" font-size="15.5" text-anchor="middle" fill="#1e222d" font-weight="400" textLength="27" lengthAdjust="spacingAndGlyphs">Dec</text>
<text x="1139.9" y="1024" font-size="15.5" text-anchor="middle" fill="#1e222d" font-weight="700" textLength="39" lengthAdjust="spacingAndGlyphs">2026</text>
<text x="1398.2" y="1024" font-size="15.5" text-anchor="middle" fill="#1e222d" font-weight="400" textLength="25.5" lengthAdjust="spacingAndGlyphs">Feb</text>
<text x="1631.5" y="1024" font-size="15.5" text-anchor="middle" fill="#1e222d" font-weight="400" textLength="25.5" lengthAdjust="spacingAndGlyphs">Mar</text>
<text x="1889.8" y="1024" font-size="15.5" text-anchor="middle" fill="#1e222d" font-weight="400" textLength="25" lengthAdjust="spacingAndGlyphs">Apr</text>
<g id="icons">
<circle cx="1848.5" cy="983.9" r="13.5" fill="#fff"/>
<path d="M1836.6,980 A12.4,12.4 0 0 1 1852.3,972.1" fill="none" stroke="#9c27b0" stroke-width="1.7" stroke-linecap="round"/>
<path d="M1860.2,979.8 A12.4,12.4 0 0 1 1839.5,992.4" fill="none" stroke="#9c27b0" stroke-width="1.7" stroke-linecap="round"/>
<path d="M1852.2,976.9 L1842.6,984.9 H1847.6 L1844,991 L1853.8,982.9 H1848.8 Z" fill="#9c27b0" stroke="#9c27b0" stroke-width="0.5" stroke-linejoin="round"/>
<circle cx="1856.8" cy="975.2" r="3.2" fill="#f23645"/>
<path d="M1835,982.2 Q1836.2,987.3 1841.3,988.5 Q1836.2,989.7 1835,994.8 Q1833.8,989.7 1828.7,988.5 Q1833.8,987.3 1835,982.2 Z" fill="#7c4dff" stroke="#7c4dff" stroke-width="0.6" stroke-linejoin="round"/>
<g>
<circle cx="1890.6" cy="983.6" r="12.3" fill="#fff" stroke="#f23645" stroke-width="1.9"/>
<clipPath id="fl2"><circle cx="1890.6" cy="983.6" r="10"/></clipPath>
<g clip-path="url(#fl2)"><rect x="1880" y="973" width="22" height="22" fill="#fff"/><rect x="1880" y="973.6" width="22" height="3.3" fill="#ef5350"/><rect x="1880" y="980.3" width="22" height="3.3" fill="#ef5350"/><rect x="1880" y="987" width="22" height="6.6" fill="#ef5350"/></g>
<circle cx="1880.3" cy="983.6" r="12.3" fill="#fff" stroke="#f23645" stroke-width="1.9"/>
<clipPath id="fl1"><circle cx="1880.3" cy="983.6" r="10"/></clipPath>
<g clip-path="url(#fl1)"><rect x="1870" y="973" width="22" height="22" fill="#fff"/><rect x="1870" y="973.6" width="22" height="3.3" fill="#ef5350"/><rect x="1870" y="980.3" width="22" height="3.3" fill="#ef5350"/><rect x="1870" y="988.4" width="22" height="6" fill="#ef5350"/><rect x="1870" y="973" width="13.3" height="13.3" fill="#1e88e5"/>
<g fill="#fff"><circle cx="1873.8" cy="976.5" r="0.8"/><circle cx="1877.3" cy="976.5" r="0.8"/><circle cx="1880.8" cy="976.5" r="0.8"/><circle cx="1873.8" cy="980" r="0.8"/><circle cx="1877.3" cy="980" r="0.8"/><circle cx="1880.8" cy="980" r="0.8"/><circle cx="1873.8" cy="983.5" r="0.8"/><circle cx="1877.3" cy="983.5" r="0.8"/><circle cx="1880.8" cy="983.5" r="0.8"/></g></g>
</g>
</g>
<g fill="#131313">
<path d="M15,1063.4 H30.7 V1082 H22.3 V1071.1 H15 Z"/>
<circle cx="36.3" cy="1066.7" r="3.3"/>
<path d="M43.6,1063.4 H52.2 L45.1,1082 H36.9 Z"/>
<text x="61.2" y="1082" font-size="25.4" font-weight="700" textLength="151.5" lengthAdjust="spacingAndGlyphs" fill="#131313">TradingView</text>
</g>
</svg></body></html>
